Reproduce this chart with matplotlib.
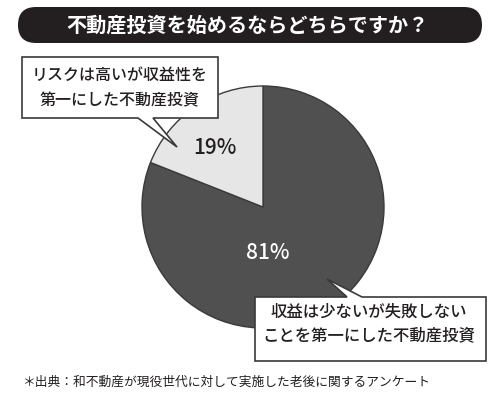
import matplotlib
matplotlib.use('Agg')
import matplotlib.pyplot as plt
from matplotlib.patches import FancyBboxPatch, Polygon

plt.rcParams['font.family'] = ['Noto Sans CJK JP', 'DejaVu Sans']

# survey result
labels = ['収益は少ないが失敗しない\nことを第一にした不動産投資',
          'リスクは高いが収益性を\n第一にした不動産投資']
shares = [81, 19]
colors = ['#505050', '#e6e6e6']
pct_colors = ['white', '#231f20']

title = '不動産投資を始めるならどちらですか？'
note = '＊出典：和不動産が現役世代に対して実施した老後に関するアンケート'

W, H = 500, 395
fig = plt.figure(figsize=(W / 100, H / 100), dpi=100)
ax = fig.add_axes([0, 0, 1, 1])


def py(y):
    # pixel rows are counted from the top
    return H - y


# pie
cx, cy, r = 263, py(207), 121
wedges, _ = ax.pie(shares, colors=colors, startangle=90, counterclock=False,
                   center=(cx, cy), radius=r, frame=True,
                   wedgeprops=dict(edgecolor='#3a3a3a', linewidth=1.0))
ax.set_xlim(0, W)
ax.set_ylim(0, H)
ax.set_aspect('equal')
ax.axis('off')

# title bar
bar = FancyBboxPatch((18, py(43)), 464, 36,
                     boxstyle='round,pad=0,rounding_size=18',
                     fc='#231f20', ec='none')
ax.add_patch(bar)
ax.text(247, py(25), title, color='white', fontsize=14.5,
        fontweight='bold', ha='center', va='center')

ax.text(268, py(253), f'{shares[0]}%', color=pct_colors[0], fontsize=15,
        fontweight='medium', ha='center', va='center')
ax.text(215, py(148), f'{shares[1]}%', color=pct_colors[1], fontsize=15,
        fontweight='medium', ha='center', va='center')

# callout boxes with pointers
box1 = [(22, 57), (218, 57), (218, 118), (153, 118), (177, 147),
        (138, 118), (22, 118)]
box2 = [(255, 297), (347, 297), (327, 279), (362, 297), (486, 297),
        (486, 361), (255, 361)]
for pts in (box1, box2):
    ax.add_patch(Polygon([(x, py(y)) for x, y in pts], closed=True,
                         fc='white', ec='#3a3a3a', lw=1.2, zorder=3))

ax.text(120, py(88), labels[1], fontsize=11.5, color='#231f20',
        fontweight='medium', ha='center', va='center', linespacing=1.6,
        zorder=4)
ax.text(369, py(324), labels[0], fontsize=11.8, color='#231f20',
        fontweight='medium', ha='center', va='center', linespacing=1.45,
        zorder=4)

# footnote
ax.text(22, py(382), note, fontsize=9.2, color='#231f20',
        ha='left', va='center')

fig.savefig('out.png', dpi=100, facecolor='white')
